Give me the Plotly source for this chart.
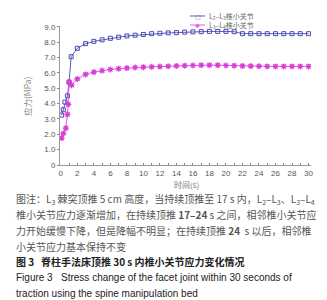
import plotly.graph_objects as go

# time (s)
t_blue = [0.1, 0.3, 0.5, 0.8, 1.0, 1.25] + list(range(2, 31))
blue = [3.25, 3.6, 4.1, 4.5, 5.4, 7.05,
        7.6, 7.9, 8.05, 8.15, 8.25, 8.32, 8.4, 8.45, 8.5, 8.55,
        8.58, 8.6, 8.62, 8.65, 8.67, 8.68, 8.7, 8.7, 8.7, 8.68,
        8.55, 8.55, 8.55, 8.55, 8.55, 8.55, 8.55, 8.55, 8.55]
t_pink = [0.1, 0.3, 0.6, 0.8, 0.9, 1.0, 1.3] + list(range(2, 31))
pink = [1.75, 2.05, 2.4, 3.3, 3.95, 5.4, 5.2,
        5.6, 5.9, 6.05, 6.15, 6.22, 6.27, 6.31, 6.35, 6.37, 6.39,
        6.41, 6.43, 6.45, 6.47, 6.48, 6.5, 6.5, 6.5, 6.48, 6.47,
        6.45, 6.44, 6.43, 6.42, 6.42, 6.42, 6.42, 6.42, 6.42]
names = ["L<sub>2</sub>–L<sub>3</sub>椎小关节", "L<sub>3</sub>–L<sub>4</sub>椎小关节"]
colors = ["#5b5bc8", "#ee55ee"]
marker_glyphs = ["□", "✱"]
xticks = list(range(0, 31))
xticktext = [str(v) if v % 2 == 0 else "" for v in xticks]
yticks = list(range(0, 10))
yticktext = ["0"] + [f"{v:.1f}" for v in yticks[1:]]

S = "\u00a0"
caption = [
    f"图注：L<sub>3</sub>{S}棘突顶推{S}5{S}cm{S}高度，当持续顶推至{S}17{S}s{S}内，L<sub>2</sub>–L<sub>3</sub>、L<sub>3</sub>–L<sub>4</sub>",
    f"椎小关节应力逐渐增加，在持续顶推{S}<b>17–24</b>{S}s{S}之间，相邻椎小关节应",
    f"力开始缓慢下降，但是降幅不明显；在持续顶推{S}<b>24</b>{S}{S}s{S}以后，相邻椎",
    "小关节应力基本保持不变",
]
fig_title_cn = f"<b>图 3{S}{S}{S}脊柱手法床顶推 30 s 内椎小关节应力变化情况</b>"
fig_title_en = [f"Figure 3{S}{S}{S}Stress change of the facet joint within 30 seconds of",
                "traction using the spine manipulation bed"]

fig = go.Figure()
fig.add_trace(go.Scatter(
    x=t_blue, y=blue, name=names[0], mode="lines+markers",
    line=dict(color=colors[0], width=1),
    marker=dict(symbol="square-open", size=4, color="#4b4bb0", line=dict(width=1))))
fig.add_trace(go.Scatter(
    x=t_pink, y=pink, name=names[1], mode="lines+markers",
    line=dict(color=colors[1], width=1),
    marker=dict(symbol="asterisk-open", size=5, color="#d63fd6",
                line=dict(width=1.3, color="#d63fd6"))))

L, R, T, B = 52, 24, 18, 143
H = 300 - T - B
W = 327 - L - R


def py(p):
    return (300 - B - p) / H


def px(p):
    return (p - L) / W


fig.update_layout(
    width=327, height=300,
    margin=dict(l=L, r=R, t=T, b=B, autoexpand=False),
    paper_bgcolor="white", plot_bgcolor="white",
    font=dict(family="Liberation Sans, Arial", size=8, color="#555555"),
    showlegend=False,
    xaxis=dict(range=[-0.1, 30.3], tickvals=xticks, ticktext=xticktext,
               ticks="inside", ticklen=2, tickcolor="#888888",
               showline=True, linecolor="#999999", linewidth=1,
               showgrid=False, zeroline=False,
               tickfont=dict(size=8, color="#555555")),
    yaxis=dict(range=[0, 9.05], tickvals=yticks, ticktext=yticktext,
               ticks="outside", ticklen=2, tickcolor="#888888",
               showline=True, linecolor="#999999", linewidth=1,
               showgrid=False, zeroline=False,
               tickfont=dict(size=8, color="#555555")),
)

# axis titles
fig.add_annotation(text="应力(MPa)", xref="paper", yref="paper", x=px(19), y=py(88),
                   textangle=-90, showarrow=False, xanchor="center", yanchor="middle",
                   font=dict(family="Noto Sans CJK SC", size=8.5, color="#888888"))
fig.add_annotation(text="时间(s)", xref="paper", yref="paper", x=px(178), y=py(176),
                   showarrow=False, xanchor="center", yanchor="middle",
                   font=dict(family="Noto Sans CJK SC", size=8, color="#777777"))

# legend (drawn as decoration)
for i, (nm, col, gl) in enumerate(zip(names, colors, marker_glyphs)):
    yy = 8 + 9 * i
    fig.add_shape(type="line", xref="paper", yref="paper",
                  x0=px(182), x1=px(197), y0=py(yy), y1=py(yy),
                  line=dict(color=col, width=1))
    fig.add_annotation(text=gl, xref="paper", yref="paper", x=px(189.5), y=py(yy),
                       showarrow=False, xanchor="center", yanchor="middle",
                       font=dict(family="DejaVu Sans", size=6, color=col))
    fig.add_annotation(text=nm, xref="paper", yref="paper", x=px(199), y=py(yy),
                       showarrow=False, xanchor="left", yanchor="middle",
                       font=dict(family="Noto Sans CJK SC", size=7, color="#666666"))

ann_font = dict(family="Noto Sans CJK SC", size=10, color="#555555")
cap_y = [191, 206.5, 222, 238]
for txt, yy in zip(caption, cap_y):
    fig.add_annotation(text=txt, xref="paper", yref="paper", x=px(6), y=py(yy),
                       xanchor="left", yanchor="middle", showarrow=False, font=ann_font)
fig.add_annotation(text=fig_title_cn, xref="paper", yref="paper", x=px(6), y=py(253.5),
                   xanchor="left", yanchor="middle", showarrow=False,
                   font=dict(family="Noto Sans CJK SC", size=10, color="#222222"))
for txt, yy in zip(fig_title_en, [269.5, 285]):
    fig.add_annotation(text=txt, xref="paper", yref="paper", x=px(6), y=py(yy),
                       xanchor="left", yanchor="middle", showarrow=False,
                       font=dict(family="Liberation Sans, Arial", size=10, color="#222222"))

fig.write_html("out.html")
